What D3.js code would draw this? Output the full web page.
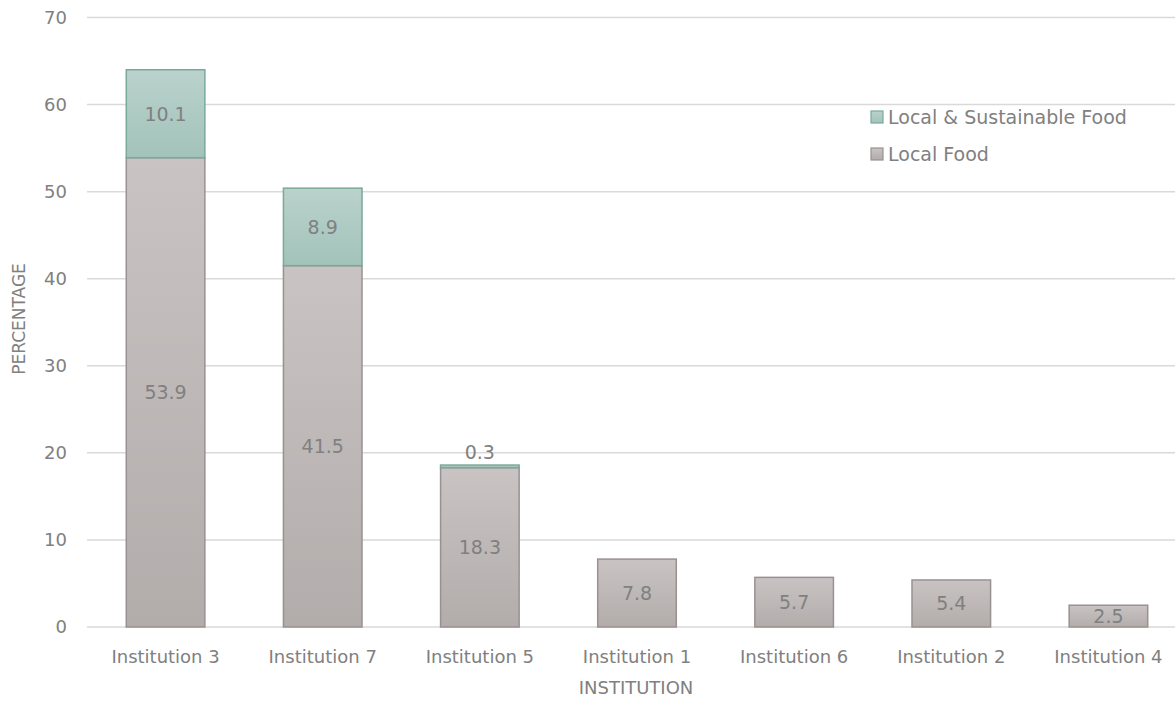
<!DOCTYPE html>
<html>
<head>
<meta charset="utf-8">
<script src="https://cdn.jsdelivr.net/npm/d3@7"></script>
<style>
  html, body { margin: 0; padding: 0; background: #fff; }
  svg { display: block; font-family: "DejaVu Sans", sans-serif; }
</style>
</head>
<body>
<svg id="chart" width="1175" height="704"></svg>
<script>
// Institutions, ordered by total share
const institutions = ["Institution 3", "Institution 7", "Institution 5", "Institution 1", "Institution 6", "Institution 2", "Institution 4"];
const localFood = [53.9, 41.5, 18.3, 7.8, 5.7, 5.4, 2.5];
const localSustainable = [10.1, 8.9, 0.3, 0, 0, 0, 0];
const yTicks = [0, 10, 20, 30, 40, 50, 60, 70];
const seriesNames = ["Local Food", "Local & Sustainable Food"];

const W = 1175, H = 704;
const plot = { left: 87, right: 1187, top: 17.5, bottom: 627 };
const svg = d3.select("#chart");

const x = d3.scaleBand().domain(institutions).range([plot.left, plot.right]).paddingInner(0.5).paddingOuter(0.25);
const y = d3.scaleLinear().domain([0, 70]).range([plot.bottom, plot.top]);

const textColor = "#808080";

// vertical gradients for the two series
const defs = svg.append("defs");
function grad(id, top, bottom) {
  const g = defs.append("linearGradient").attr("id", id).attr("x1", 0).attr("y1", 0).attr("x2", 0).attr("y2", 1);
  g.append("stop").attr("offset", "0%").attr("stop-color", top);
  g.append("stop").attr("offset", "100%").attr("stop-color", bottom);
}
grad("gLocal", "#c9c4c3", "#b2acab");
grad("gSust", "#bad2cc", "#a2c3ba");

// horizontal gridlines
svg.append("g").selectAll("line").data(yTicks).join("line")
  .attr("x1", plot.left).attr("x2", W)
  .attr("y1", d => y(d)).attr("y2", d => y(d))
  .attr("stroke", "#d9d9d9").attr("stroke-width", 1.5);

// y tick labels
svg.append("g").selectAll("text").data(yTicks).join("text")
  .attr("x", 67).attr("y", d => y(d)).attr("dy", "0.36em")
  .attr("text-anchor", "end").attr("fill", textColor).attr("font-size", 18)
  .text(d => d);

// stacked series
const rows = institutions.map((name, i) => ({ name, local: localFood[i], sust: localSustainable[i] }));
const stack = d3.stack().keys(["local", "sust"])(rows);
const fills = { local: "url(#gLocal)", sust: "url(#gSust)" };
const strokes = { local: "#9b9091", sust: "#7aa89a" };

const gBars = svg.append("g");
stack.forEach(layer => {
  gBars.append("g").selectAll("rect").data(layer.filter(d => d[1] - d[0] > 0)).join("rect")
    .attr("x", d => x(d.data.name))
    .attr("width", x.bandwidth())
    .attr("y", d => y(d[1]))
    .attr("height", d => y(d[0]) - y(d[1]))
    .attr("fill", fills[layer.key])
    .attr("stroke", strokes[layer.key]).attr("stroke-width", 1.5);
});

// value labels, centred in each segment (thin segments get the label just above)
stack.forEach(layer => {
  gBars.append("g").selectAll("text").data(layer.filter(d => d[1] - d[0] > 0)).join("text")
    .attr("x", d => x(d.data.name) + x.bandwidth() / 2)
    .attr("y", d => {
      const h = y(d[0]) - y(d[1]);
      return h < 15 && layer.key === "sust" ? y(d[1]) - 13 : (y(d[0]) + y(d[1])) / 2;
    })
    .attr("dy", "0.36em")
    .attr("text-anchor", "middle").attr("fill", textColor).attr("font-size", 19)
    .text(d => (d[1] - d[0]).toFixed(1));
});

// category labels
svg.append("g").selectAll("text").data(institutions).join("text")
  .attr("x", d => x(d) + x.bandwidth() / 2).attr("y", 657).attr("dy", "0.36em")
  .attr("text-anchor", "middle").attr("fill", textColor).attr("font-size", 18)
  .text(d => d);

// axis titles
svg.append("text").attr("x", 636).attr("y", 688).attr("dy", "0.36em")
  .attr("text-anchor", "middle").attr("fill", textColor).attr("font-size", 18)
  .text("INSTITUTION");
svg.append("text").attr("transform", "translate(19,319) rotate(-90)").attr("dy", "0.36em")
  .attr("text-anchor", "middle").attr("fill", textColor).attr("font-size", 17)
  .text("PERCENTAGE");

// legend
const legendItems = [
  { name: seriesNames[1], fill: "url(#gSust)", stroke: strokes.sust },
  { name: seriesNames[0], fill: "url(#gLocal)", stroke: strokes.local }
];
const lg = svg.append("g");
legendItems.forEach((it, i) => {
  const ly = 117 + i * 37;
  lg.append("rect").attr("x", 871).attr("y", ly - 6).attr("width", 12).attr("height", 12)
    .attr("fill", it.fill).attr("stroke", it.stroke).attr("stroke-width", 1.2);
  lg.append("text").attr("x", 888).attr("y", ly).attr("dy", "0.36em")
    .attr("fill", textColor).attr("font-size", 19).text(it.name);
});
</script>
</body>
</html>
